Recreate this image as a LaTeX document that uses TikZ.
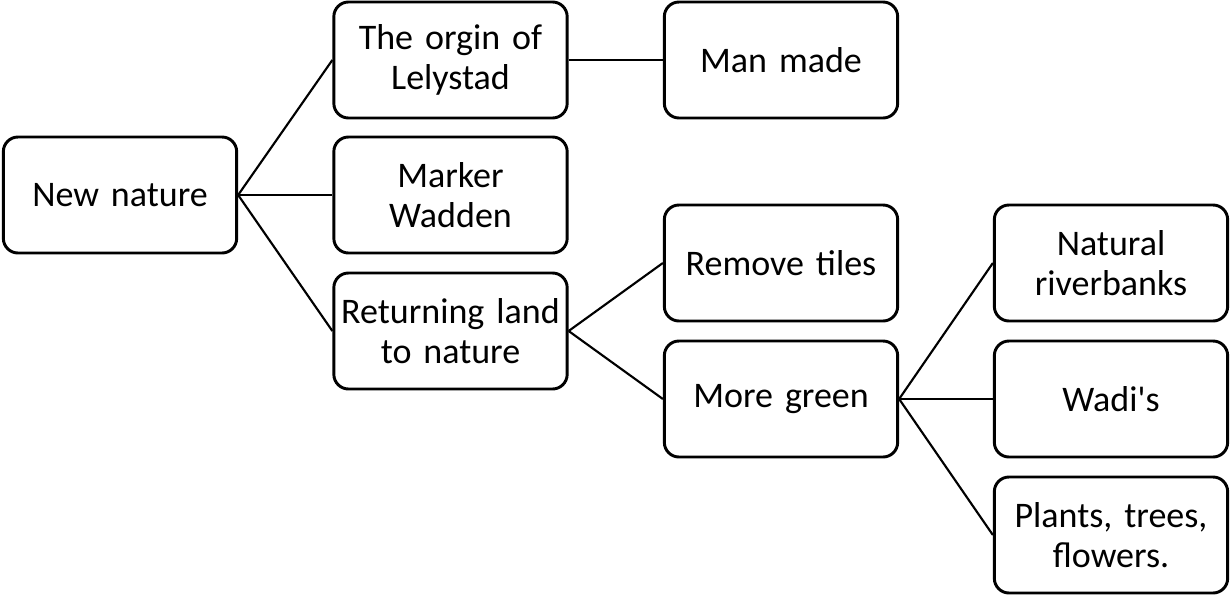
\documentclass[tikz,border=0pt]{standalone}
\usepackage{fontspec}
\setmainfont{Carlito}
\begin{document}
\begin{tikzpicture}[x=0.75pt,y=-0.75pt,
  box/.style={draw=black,line width=2.2pt,rounded corners=11pt,fill=white,
    minimum width=175pt,minimum height=87pt,text width=172pt,align=center,
    inner sep=0pt,font=\fontsize{27}{29.5}\selectfont},
  link/.style={draw=black,line width=1.6pt}]
\useasboundingbox (0,0) rectangle (1231,596);
% first level
\node[box] (root) at (120,195) {New nature};
% second level
\node[box] (orgin)  at (450.5,60)  {The orgin of\\Lelystad};
\node[box] (marker) at (450.5,195) {Marker\\Wadden};
\node[box] (return) at (450.5,331) {Returning land\\to nature};
% third level
\node[box] (man)    at (781,60)  {Man made};
\node[box] (tiles)  at (781,263) {Remove tiles};
\node[box] (green)  at (781,399) {More green};
% fourth level
\node[box] (banks)  at (1111,263) {Natural\\riverbanks};
\node[box] (wadi)   at (1111,399) {Wadi\textquotesingle s};
\node[box] (plants) at (1111,535) {Plants, trees,\\flowers.};
% connectors
\foreach \a/\b in {root/orgin,root/marker,root/return,orgin/man,
                   return/tiles,return/green,green/banks,green/wadi,green/plants}
  \draw[link] (\a.east) -- (\b.west);
\end{tikzpicture}
\end{document}
